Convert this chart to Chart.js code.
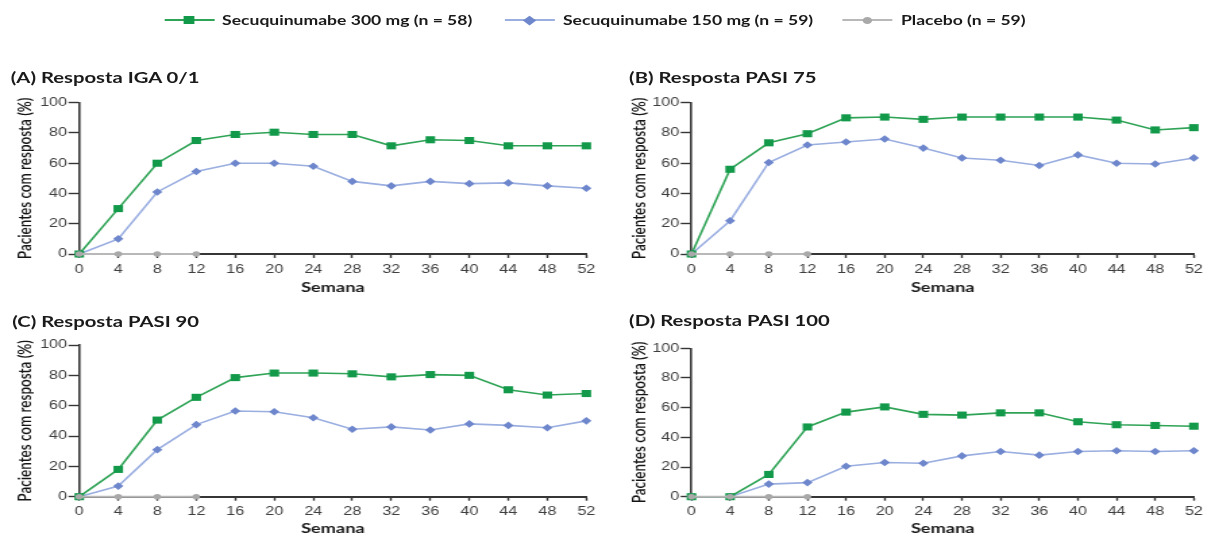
<!DOCTYPE html>
<html><head><meta charset="utf-8">
<script src="https://cdn.jsdelivr.net/npm/chart.js@4.4.1/dist/chart.umd.min.js"></script>
<style>
html,body{margin:0;padding:0;background:#fff;overflow:hidden;width:1215px;height:536px}
#stage{position:absolute;left:0;top:0;width:900px;height:536px;transform:scaleX(1.35);transform-origin:0 0}
canvas{position:absolute}
.ptitle{position:absolute;font-family:Lato;font-weight:bold;font-size:15px;line-height:15px;color:#1a1a1a;white-space:nowrap}
.leg{position:absolute;top:12px;height:16px;display:flex;align-items:center;font-family:Lato;font-weight:bold;font-size:13px;color:#1a1a1a;white-space:nowrap}
.leg .sw{position:relative;width:37px;height:16px;margin-right:6px;flex:none}
.leg .ln{position:absolute;left:0;right:0;top:7px;height:2px}
.leg .mk{position:absolute;left:50%;top:50%}
</style></head>
<body>
<div id="stage">
  <div class="leg" style="left:121.5px"><span class="sw"><span class="ln" style="background:#2fa356"></span><span class="mk" style="width:8px;height:8px;margin:-4px 0 0 -4px;background:#12994a"></span></span>Secuquinumabe 300 mg (n = 58)</div>
  <div class="leg" style="left:374px"><span class="sw"><span class="ln" style="background:#9aaee0"></span><span class="mk" style="width:6.5px;height:6.5px;margin:-3.25px 0 0 -3.25px;background:#6d86cc;transform:rotate(45deg)"></span></span>Secuquinumabe 150 mg (n = 59)</div>
  <div class="leg" style="left:624.4px"><span class="sw"><span class="ln" style="background:#b8b8b8"></span><span class="mk" style="width:7px;height:7px;margin:-3.5px 0 0 -3.5px;background:#a9a9a9;border-radius:50%"></span></span>Placebo (n = 59)</div>

  <div class="ptitle" style="left:8px;top:69.5px">(A) Resposta IGA 0/1</div>
  <div class="ptitle" style="left:466px;top:69.5px">(B) Resposta PASI 75</div>
  <div class="ptitle" style="left:9px;top:313.5px">(C) Resposta PASI 90</div>
  <div class="ptitle" style="left:466px;top:312.5px">(D) Resposta PASI 100</div>

  <canvas id="cA" width="445" height="215" style="left:0;top:85px"></canvas>
  <canvas id="cB" width="440" height="215" style="left:455px;top:85px"></canvas>
  <canvas id="cC" width="445" height="206" style="left:0;top:330px"></canvas>
  <canvas id="cD" width="440" height="206" style="left:455px;top:330px"></canvas>
</div>
<script>
// ---- data ----
const weeks = [0,4,8,12,16,20,24,28,32,36,40,44,48,52];
const weekLabels = weeks.map(String);
const yTicks = [0,20,40,60,80,100];
const seriesNames = ['Secuquinumabe 300 mg (n = 58)','Secuquinumabe 150 mg (n = 59)','Placebo (n = 59)'];
const placebo = [0,0,0,0,null,null,null,null,null,null,null,null,null,null];

const igaSec300 = [0,30,60,75,79,80.5,79,79,71.5,75.5,75,71.5,71.5,71.5];
const igaSec150 = [0,10,41,54.5,60,60,58,48,45,48,46.5,47,45,43.5];

const pasi75Sec300 = [0,56,73.5,79.5,90,90.5,89,90.5,90.5,90.5,90.5,88.5,82,83.5];
const pasi75Sec150 = [0,22,60.5,72,74,76,70,63.5,62,58.5,65.5,60,59.5,63.5];

const pasi90Sec300 = [0,18,50.5,65.5,78.5,81.5,81.5,81,79,80.5,80,70.5,67,68];
const pasi90Sec150 = [0,7,31,47.5,56.5,56,52,44.5,46,44,48,47,45.5,50];

const pasi100Sec300 = [0,0,15,47,57,60.5,55.5,55,56.5,56.5,50.5,48.5,48,47.5];
const pasi100Sec150 = [0,0,8.5,9.5,20.5,23,22.5,27.5,30.5,28,30.5,31,30.5,31];

const xTitle = 'Semana';
const yTitle = 'Pacientes com resposta (%)';

// ---- styles ----
const AXIS = '#363636';
const TICK = '#3e3e3e';

function panel(id, s300, s150, plc, L) {
  new Chart(document.getElementById(id), {
    type: 'line',
    data: {
      labels: weekLabels,
      datasets: [
        { label: seriesNames[2], data: plc, order: 0, borderColor: '#b8b8b8', backgroundColor: '#a9a9a9',
          borderWidth: 2, pointStyle: 'circle', pointRadius: 2.8, pointBorderWidth: 0, pointBackgroundColor: '#a9a9a9', clip: false, spanGaps: false },
        { label: seriesNames[0], data: s300, order: 1, borderColor: '#2fa356', backgroundColor: '#12994a',
          borderWidth: 1.6, pointStyle: 'rect', pointRadius: 5, pointBorderWidth: 0, pointBackgroundColor: '#12994a', clip: false },
        { label: seriesNames[1], data: s150, order: 2, borderColor: '#9aaee0', backgroundColor: '#6d86cc',
          borderWidth: 1.6, pointStyle: 'rectRot', pointRadius: 3.8, pointBorderWidth: 0, pointBackgroundColor: '#6d86cc', clip: false }
      ]
    },
    options: {
      responsive: false, animation: false, devicePixelRatio: 1,
      layout: { padding: { left: 0, top: L.padTop, right: L.padRight, bottom: 0 } },
      plugins: { legend: { display: false }, tooltip: { enabled: false }, title: { display: false } },
      elements: { line: { tension: 0 } },
      scales: {
        x: {
          type: 'category', offset: false,
          grid: { display: true, drawOnChartArea: false, drawTicks: true, tickLength: 4, tickColor: AXIS, tickWidth: 1.4 },
          border: { display: true, color: AXIS, width: 2 },
          ticks: { color: TICK, font: { family: 'Liberation Sans', size: 12 }, padding: 4, maxRotation: 0, autoSkip: false },
          title: { display: true, text: xTitle, color: '#1a1a1a', font: { family: 'Lato', size: 13.5, weight: 'bold', lineHeight: 1 }, padding: { top: 0, bottom: L.xTitlePad } },
          afterFit(s) { s.height = L.xHeight; }
        },
        y: {
          min: 0, max: 100,
          afterBuildTicks(s) { s.ticks = yTicks.map(v => ({ value: v })); },
          grid: { display: true, drawOnChartArea: false, drawTicks: true, tickLength: 8, tickColor: AXIS, tickWidth: 1.4 },
          border: { display: true, color: AXIS, width: 1.6 },
          ticks: { color: TICK, font: { family: 'Liberation Sans', size: 12 }, padding: 1 },
          title: { display: true, text: yTitle, color: '#151515', font: { family: 'Lato', size: 13.5, weight: 600, lineHeight: 1 }, padding: { top: L.yTitlePad, bottom: 0 } },
          afterFit(s) { s.width = L.yWidth; }
        }
      }
    }
  });
}

panel('cA', igaSec300, igaSec150, placebo, { padTop: 17.7, padRight: 9.7, yWidth: 58.7, xHeight: 46, xTitlePad: 5.25, yTitlePad: 12.2 });
panel('cB', pasi75Sec300, pasi75Sec150, placebo, { padTop: 17.7, padRight: 9.3, yWidth: 57.2, xHeight: 46, xTitlePad: 5.25, yTitlePad: 12 });
panel('cC', pasi90Sec300, pasi90Sec150, placebo, { padTop: 15, padRight: 9.7, yWidth: 58.7, xHeight: 39.3, xTitlePad: 0.25, yTitlePad: 12.2 });
panel('cD', pasi100Sec300, pasi100Sec150, placebo, { padTop: 18.3, padRight: 9.3, yWidth: 57.2, xHeight: 39.3, xTitlePad: 0.25, yTitlePad: 12 });
</script>
</body></html>
